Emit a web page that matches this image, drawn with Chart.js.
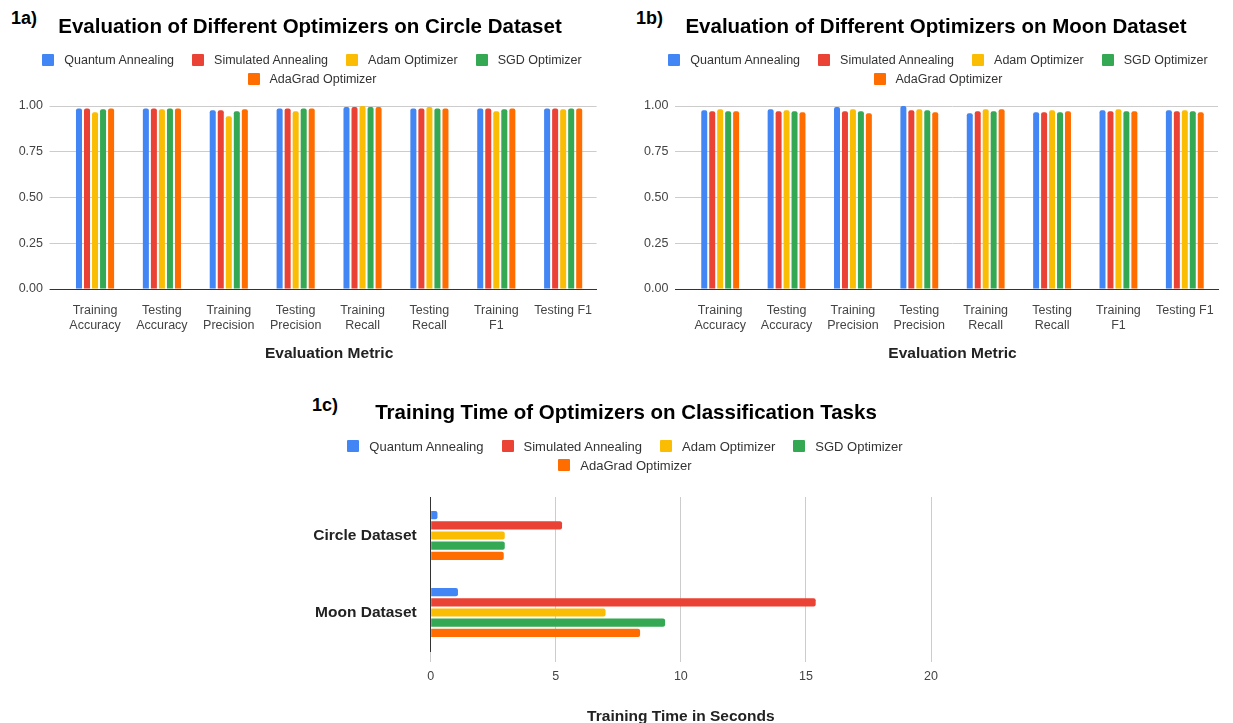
<!DOCTYPE html>
<html lang="en">
<head>
    <meta charset="UTF-8">
    <title>Optimizer Evaluation</title>
    <script src="https://cdn.jsdelivr.net/npm/chart.js"></script>
    <style>
        body {
            margin: 0;
            padding: 0;
            background: #fff;
            overflow: hidden;
            font-family: 'Liberation Sans', Arial, sans-serif;
        }
        #page {
            position: relative;
            width: 1233px;
            height: 723px;
            overflow: hidden;
            background: #fff;
        }
        .panel {
            position: absolute;
        }
        .panel-tag {
            position: absolute;
            font-size: 18px;
            font-weight: bold;
            line-height: 18px;
            color: #000;
        }
        .legend-container {
            position: absolute;
            display: flex;
            flex-wrap: wrap;
            justify-content: center;
            column-gap: 18px;
            row-gap: 7px;
        }
        .legend-item {
            display: flex;
            align-items: center;
            height: 12px;
            white-space: nowrap;
            color: #333;
        }
        .legend-color {
            width: 12px;
            height: 12px;
            border-radius: 1px;
            margin-right: 10px;
        }
    </style>
</head>
<body>
<div id="page">
    <div class="panel-tag" style="left:11px; top:9px;">1a)</div>
    <div class="panel-tag" style="left:636px; top:9px;">1b)</div>
    <div class="panel-tag" style="left:312px; top:396px;">1c)</div>

    <div class="panel" style="left:0px; top:0px;"><canvas id="circleChart" width="620" height="372"></canvas></div>
    <div class="panel" style="left:640px; top:0px;"><canvas id="moonChart" width="592" height="372"></canvas></div>
    <div class="panel" style="left:300px; top:385px;"><canvas id="timeChart" width="652" height="350"></canvas></div>

    <div id="circleLegend" class="legend-container" style="left:32px; top:54px; width:560px; font-size:12.5px;"></div>
    <div id="moonLegend" class="legend-container" style="left:658px; top:54px; width:560px; font-size:12.5px;"></div>
    <div id="timeLegend" class="legend-container" style="left:335px; top:440px; width:580px; font-size:13px;"></div>
</div>

<script>
    const seriesNames = ['Quantum Annealing', 'Simulated Annealing', 'Adam Optimizer', 'SGD Optimizer', 'AdaGrad Optimizer'];
    const seriesColors = ['#4285F4', '#EA4335', '#FBBC04', '#34A853', '#FF6D01'];

    const metricLabels = [
        ['Training', 'Accuracy'], ['Testing', 'Accuracy'],
        ['Training', 'Precision'], ['Testing', 'Precision'],
        ['Training', 'Recall'], ['Testing', 'Recall'],
        ['Training', 'F1'], 'Testing F1'
    ];

    // scores per optimizer, one value per metric
    const circleQuantum   = [0.987, 0.987, 0.977, 0.987, 0.995, 0.987, 0.987, 0.987];
    const circleSimulated = [0.987, 0.987, 0.977, 0.987, 0.995, 0.987, 0.987, 0.987];
    const circleAdam      = [0.966, 0.982, 0.944, 0.971, 1.000, 0.995, 0.971, 0.982];
    const circleSGD       = [0.982, 0.987, 0.971, 0.987, 0.995, 0.987, 0.982, 0.987];
    const circleAdaGrad   = [0.987, 0.987, 0.982, 0.987, 0.995, 0.987, 0.987, 0.987];

    const moonQuantum   = [0.977, 0.982, 0.995, 1.000, 0.960, 0.966, 0.977, 0.977];
    const moonSimulated = [0.971, 0.971, 0.971, 0.977, 0.971, 0.966, 0.971, 0.971];
    const moonAdam      = [0.982, 0.977, 0.982, 0.982, 0.982, 0.977, 0.982, 0.977];
    const moonSGD       = [0.971, 0.971, 0.971, 0.977, 0.971, 0.966, 0.971, 0.971];
    const moonAdaGrad   = [0.971, 0.966, 0.960, 0.966, 0.982, 0.971, 0.971, 0.966];

    const datasetNames = ['Circle Dataset', 'Moon Dataset'];
    const timeQuantum   = [0.27, 1.09];
    const timeSimulated = [5.25, 15.39];
    const timeAdam      = [2.96, 6.99];
    const timeSGD       = [2.96, 9.37];
    const timeAdaGrad   = [2.92, 8.37];

    const yTicks = [0, 0.25, 0.5, 0.75, 1];

    Chart.defaults.font.family = "'Liberation Sans', Arial, sans-serif";
    Chart.defaults.animation = false;

    function buildDatasets(values, catPct, barPct) {
        return values.map((vals, i) => ({
            label: seriesNames[i],
            data: vals,
            backgroundColor: seriesColors[i],
            borderRadius: 2,
            categoryPercentage: catPct,
            barPercentage: barPct
        }));
    }

    function buildLegend(legendId) {
        const legendContainer = document.getElementById(legendId);
        legendContainer.innerHTML = '';
        seriesNames.forEach((label, index) => {
            const legendItem = document.createElement('div');
            legendItem.className = 'legend-item';
            legendItem.innerHTML =
                `<div class="legend-color" style="background-color: ${seriesColors[index]}"></div><span>${label}</span>`;
            legendContainer.appendChild(legendItem);
        });
    }

    // yWidth sets where the plot starts, rightGap keeps room on the right without moving the title
    function scoreChart(canvasId, title, values, yWidth, rightGap) {
        const ctx = document.getElementById(canvasId).getContext('2d');
        return new Chart(ctx, {
            type: 'bar',
            data: {
                labels: metricLabels,
                datasets: buildDatasets(values, 0.6, 0.75)
            },
            options: {
                responsive: false,
                layout: { padding: 0 },
                plugins: {
                    legend: { display: false },
                    tooltip: { enabled: false },
                    title: {
                        display: true,
                        text: title,
                        color: '#000',
                        font: { size: 20.5, weight: 'bold' },
                        padding: { top: 15, bottom: 66.4 }
                    }
                },
                scales: {
                    x: {
                        grid: { display: false },
                        border: { color: '#333' },
                        ticks: { color: '#444', font: { size: 12.5 }, padding: 6, maxRotation: 0, autoSkip: false },
                        title: {
                            display: true,
                            text: 'Evaluation Metric',
                            color: '#222',
                            font: { size: 15.5, weight: 'bold' },
                            padding: { top: 0, bottom: 8.7 }
                        },
                        afterFit: s => { s.height = 83; s.paddingRight = rightGap; }
                    },
                    y: {
                        min: 0,
                        max: 1,
                        afterBuildTicks: s => { s.ticks = yTicks.map(v => ({ value: v })); },
                        ticks: { color: '#444', font: { size: 12.5 }, padding: 6.6, callback: v => v.toFixed(2) },
                        grid: {
                            color: '#ccc',
                            tickLength: 12,
                            tickColor: c => (c.tick && c.tick.value === 0 ? '#333' : '#ccc')
                        },
                        border: { display: false },
                        afterFit: s => { s.width = yWidth; }
                    }
                }
            }
        });
    }

    scoreChart('circleChart', 'Evaluation of Different Optimizers on Circle Dataset',
        [circleQuantum, circleSimulated, circleAdam, circleSGD, circleAdaGrad], 61.6, 23.4);
    scoreChart('moonChart', 'Evaluation of Different Optimizers on Moon Dataset',
        [moonQuantum, moonSimulated, moonAdam, moonSGD, moonAdaGrad], 47, 14);

    new Chart(document.getElementById('timeChart').getContext('2d'), {
        type: 'bar',
        data: {
            labels: datasetNames,
            datasets: buildDatasets([timeQuantum, timeSimulated, timeAdam, timeSGD, timeAdaGrad], 0.66, 0.8)
        },
        options: {
            indexAxis: 'y',
            responsive: false,
            layout: { padding: 0 },
            plugins: {
                legend: { display: false },
                tooltip: { enabled: false },
                title: {
                    display: true,
                    text: 'Training Time of Optimizers on Classification Tasks',
                    color: '#000',
                    font: { size: 20.5, weight: 'bold' },
                    padding: { top: 15.7, bottom: 71.7 }
                }
            },
            scales: {
                x: {
                    min: 0,
                    max: 20,
                    ticks: { stepSize: 5, color: '#444', font: { size: 12.5 }, padding: 7 },
                    grid: { color: '#ccc', tickLength: 11, tickColor: '#ccc' },
                    border: { display: false },
                    title: {
                        display: true,
                        text: 'Training Time in Seconds',
                        color: '#222',
                        font: { size: 15.5, weight: 'bold' },
                        padding: { top: 0, bottom: 8.7 }
                    },
                    afterFit: s => { s.height = 84; s.paddingRight = 21; }
                },
                y: {
                    grid: { display: false },
                    border: { color: '#333' },
                    ticks: { color: '#222', font: { size: 15.5, weight: 'bold' }, padding: 6 },
                    afterFit: s => { s.width = 130.7; }
                }
            }
        }
    });

    buildLegend('circleLegend');
    buildLegend('moonLegend');
    buildLegend('timeLegend');
</script>
</body>
</html>
